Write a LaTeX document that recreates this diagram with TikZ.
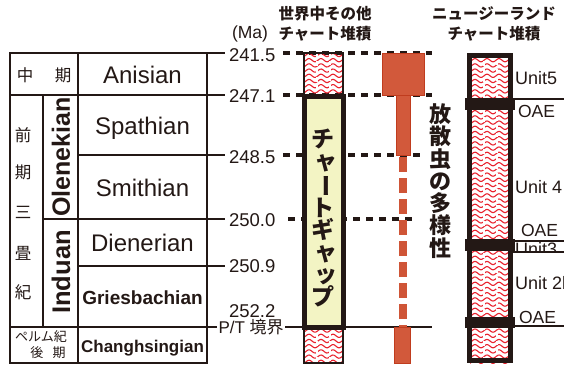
\documentclass[tikz,border=0pt]{standalone}
\usepackage{fontspec}
\usepackage{graphicx}
\setmainfont{Liberation Sans}
\newfontfamily\jp{Noto Sans CJK JP}
\definecolor{ink}{HTML}{231815}
\definecolor{chertred}{HTML}{E8222E}
\definecolor{radfill}{HTML}{D2593B}
\definecolor{radedge}{HTML}{C03C1E}
\definecolor{gapyellow}{HTML}{F3F4C4}
\newcommand\myfs[2]{\fontsize{#1}{#2}\selectfont}
\newcommand\vbar{\rotatebox[origin=c]{-90}{ー}}
\newcommand\smk[1]{\kern0.15em #1\kern-0.15em}
\begin{document}
\begin{tikzpicture}[x=1pt,y=-1pt,
  every node/.style={inner sep=0pt, outer sep=0pt, text=ink},
  tbl/.style={line width=2pt, draw=ink},
  bdash/.style={line width=4.5pt, draw=ink, dash pattern=on 7pt off 6pt},
  wavey/.style={line width=1.1pt, draw=chertred},
  radbox/.style={fill=radfill, draw=radedge, line width=1pt},
  raddash/.style={line width=8pt, draw=radfill!85!radedge, dash pattern=on 15pt off 6pt},
  num/.style={anchor=west, font=\myfs{18.5}{18.5}},
  stage/.style={font=\myfs{24}{24}},
  jpl/.style={font=\jp\myfs{16.5}{16.5}},
  head/.style={font=\jp\bfseries\myfs{15.5}{15.5}},
  unit/.style={anchor=west, font=\myfs{18}{18}},
  oae/.style={anchor=west, font=\myfs{17.5}{17.5}},
  nzline/.style={line width=1.5pt, draw=ink}
]
\useasboundingbox (0,0) rectangle (564,367);

% ---------- table ----------
\draw[tbl] (10,53) rectangle (207,363);
\draw[tbl] (10,95) -- (207,95);
\draw[tbl] (10,327) -- (207,327);
\draw[tbl] (78,53) -- (78,363);
\draw[tbl] (43,95) -- (43,327);
\draw[tbl] (78,155) -- (207,155);
\draw[tbl] (43,219) -- (207,219);
\draw[tbl] (78,266) -- (207,266);
\foreach \yy in {53,95,155,219,266} \draw[tbl] (207,\yy) -- (225,\yy);

\node[jpl] (naka) at (25,75) {中};
\node[jpl] (ki1) at (63,75) {期};
\node[stage] (anisian) at (142.5,75) {Anisian};
\node[jpl] (zen) at (23,135) {前};
\node[jpl] (ki2) at (23,172) {期};
\node[jpl] (san) at (23,212) {三};
\node[jpl] (jo) at (23,253) {畳};
\node[jpl] (kki) at (23,292) {紀};
\node[font=\bfseries\myfs{25}{25}, rotate=90] (olen) at (61,157) {Olenekian};
\node[font=\bfseries\myfs{25.5}{25.5}, rotate=90] (indu) at (61,272) {Induan};
\node[stage] (spath) at (142.5,128) {Spathian};
\node[stage] (smith) at (142.5,188) {Smithian};
\node[stage] (diener) at (142.5,243) {Dienerian};
\node[font=\bfseries\myfs{19}{19}] (gries) at (142.5,298) {Griesbachian};
\node[font=\bfseries\myfs{17}{17}] (chang) at (142.5,348) {Changhsingian};
\node[font=\jp\myfs{13}{13}] (perm) at (41,337) {ペルム紀};
\node[font=\jp\myfs{13}{13}] (late) at (48,353) {後\hspace{0.7em}期};

% ---------- ages ----------
\node[font=\myfs{17.5}{17.5}] (ma) at (250,34) {(Ma)};
\node[num] (a1) at (229,55) {241.5};
\node[num] (a2) at (229,96) {247.1};
\node[num] (a3) at (229,157) {248.5};
\node[num] (a4) at (229,220) {250.0};
\node[num] (a5) at (229,266) {250.9};
\node[num] (a6) at (229,311) {252.2};
\node[anchor=west, inner sep=1.5pt, font=\myfs{17}{17}] (pt) at (217,327.5) {P/T \jp 境界};
\draw[line width=1.5pt, draw=ink] (207,327) -- (pt.west |- 0,327);
\draw[line width=1.5pt, draw=ink] (pt.east |- 0,327) -- (432,327);

% ---------- dashed boundary lines ----------
\draw[bdash] (283,53) -- (432,53);
\draw[bdash] (283,95) -- (432,95);
\draw[bdash] (283,155) -- (424,155);
\draw[bdash] (288,219) -- (416,219);

% ---------- headers ----------
\node[head] (h1a) at (325,14) {世界中その他};
\node[head] (h1b) at (325,34) {チャート堆積};
\node[head] (h2a) at (494,14) {ニュージーランド};
\node[head] (h2b) at (494,34) {チャート堆積};

% ---------- world chert column ----------
\begin{scope}
\clip (304,53) rectangle (343,363);
\foreach \yy in {55,60.2,...,366}
  \draw[wavey] plot[domain=300:350, samples=50, smooth] (\x, {\yy + 1.6*sin(30*(\x-300))});
\draw[white, line width=1.3pt, dash pattern=on 5pt off 3pt] (317,53) -- (317,363);
\draw[white, line width=1.3pt, dash pattern=on 4pt off 4pt] (330,53) -- (330,363);
\end{scope}
\draw[ink, line width=1.3pt] (304,53) rectangle (343,95);
\draw[ink, line width=1.3pt] (304,327) rectangle (343,363);
\draw[fill=gapyellow, draw=ink, line width=5pt] (304.5,96) rectangle (343.5,327);
\node[font=\jp\bfseries\myfs{23}{21.9}, align=center] (gap) at (323,218)
  {チ\\\smk{ャ}\\\vbar\\ト\\ギ\\\smk{ャ}\\\smk{ッ}\\プ};

% ---------- radiolarian diversity ----------
\draw[radbox] (382,53) rectangle (424,95);
\draw[radbox] (396,95) rectangle (410,155);
\draw[raddash] (403,157) -- (403,327);
\draw[radbox] (394,327) rectangle (410,363);
\node[font=\jp\bfseries\myfs{22}{22.3}, align=center] (div) at (440,181)
  {放\\散\\虫\\の\\多\\様\\性};

% ---------- New Zealand column ----------
\begin{scope}
\clip (470,53) rectangle (511,363);
\foreach \yy in {55,60.2,...,366}
  \draw[wavey] plot[domain=466:515, samples=50, smooth] (\x, {\yy + 1.6*sin(30*(\x-466))});
\draw[white, line width=1.3pt, dash pattern=on 5pt off 3pt] (484,53) -- (484,363);
\draw[white, line width=1.3pt, dash pattern=on 4pt off 4pt] (497,53) -- (497,363);
\end{scope}
\draw[ink, line width=5pt] (469.5,55.5) rectangle (510.5,360.5);
\fill[ink] (465,98) rectangle (515,110);
\fill[ink] (465,239) rectangle (515,251);
\fill[ink] (465,317) rectangle (515,328);

\draw[nzline] (513,99) -- (564,99);
\draw[nzline] (513,241) -- (564,241);
\draw[nzline] (513,252) -- (564,252);
\draw[nzline] (513,326) -- (564,326);

\begin{scope}
\clip (0,0) rectangle (564,367);
\node[unit] (u5) at (515,78) {Unit5};
\node[oae] (o1) at (518,111) {OAE};
\node[unit] (u4) at (515,187) {Unit 4};
\node[oae] (o2) at (521,230) {OAE};
\node[unit] (u2) at (515,283) {Unit 2b};
\node[oae] (o3) at (519,317) {OAE};
\end{scope}
\begin{scope}
\clip (505,242) rectangle (564,251.3);
\node[unit] (u3) at (515,249.5) {Unit3};
\end{scope}
\end{tikzpicture}
\end{document}
